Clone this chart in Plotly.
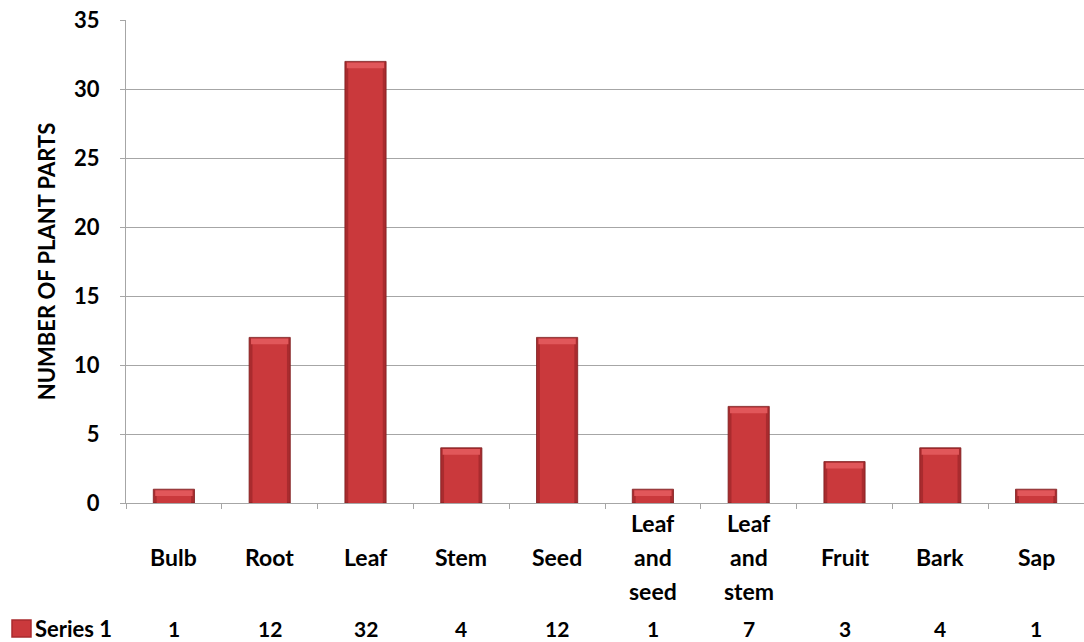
import plotly.graph_objects as go

# Plant parts used and how many plants use each part
categories = ["Bulb", "Root", "Leaf", "Stem", "Seed", "Leaf and seed",
              "Leaf and stem", "Fruit", "Bark", "Sap"]
series_name = "Series 1"
counts = [1, 12, 32, 4, 12, 1, 7, 3, 4, 1]
y_ticks = [0, 5, 10, 15, 20, 25, 30, 35]

FONT = "Lato, 'Open Sans', sans-serif"
BAR_DARK = "#A92B2E"
BAR_MID = "#CA393C"
BAR_TOP = "#E1575A"
GRID = "#A6A6A6"
TXT = 23
TABLE_TXT = 21

# figure geometry (pixels)
W, H = 1084, 642
ML, MR, MT, MB = 126, 0, 20, 139
PW, PH = W - ML - MR, H - MT - MB


def px_x(px):
    return (px - ML) / PW


def px_y(py):
    return (H - MB - py) / PH


fig = go.Figure()

# outer (darker) bar body
fig.add_trace(go.Bar(
    x=categories, y=counts, name=series_name, width=0.43,
    marker=dict(color=BAR_DARK, line=dict(color="#7E1E20", width=0.8)),
    showlegend=False,
))
# lighter centre of each bar
inner_h = [max(c - 0.35, 0) for c in counts]
fig.add_trace(go.Bar(
    x=categories, y=inner_h, width=0.36,
    marker=dict(color=BAR_MID, line=dict(width=0)),
    showlegend=False, hoverinfo="skip",
))
# bright bevel on the top face
fig.add_trace(go.Bar(
    x=categories, y=[0.42] * len(counts), base=[c - 0.5 for c in counts],
    width=0.39, marker=dict(color=BAR_TOP, line=dict(width=0)),
    showlegend=False, hoverinfo="skip",
))

annotations = []
# category labels, split across lines with Excel-like line spacing
LINE_GAP = 34
for cat in categories:
    words = cat.split(" ")
    n = len(words)
    for i, w in enumerate(words):
        annotations.append(dict(
            x=cat, xref="x", y=px_y(557), yref="paper", text=f"<b>{w}</b>",
            showarrow=False, xanchor="center", yanchor="middle",
            yshift=-(i - (n - 1) / 2) * LINE_GAP,
            font=dict(family=FONT, size=TXT, color="#000"),
        ))
# data table row
ROW_Y = 628
for cat, v in zip(categories, counts):
    annotations.append(dict(
        x=cat, xref="x", y=px_y(ROW_Y), yref="paper", text=f"<b>{v}</b>",
        showarrow=False, xanchor="center", yanchor="middle",
        font=dict(family=FONT, size=TABLE_TXT, color="#000"),
    ))
annotations.append(dict(
    x=px_x(33), xref="paper", y=px_y(ROW_Y), yref="paper",
    text=f"<b>{series_name}</b>", showarrow=False,
    xanchor="left", yanchor="middle",
    font=dict(family=FONT, size=TABLE_TXT + 1, color="#000"),
))

shapes = [
    # legend key swatch for the data table
    dict(type="rect", xref="paper", yref="paper",
         x0=px_x(12), x1=px_x(31), y0=px_y(637), y1=px_y(620),
         fillcolor=BAR_MID, line=dict(color=BAR_DARK, width=1.5)),
]

fig.update_layout(
    width=W, height=H,
    margin=dict(l=ML, r=MR, t=MT, b=MB),
    paper_bgcolor="white", plot_bgcolor="white",
    barmode="overlay",
    font=dict(family=FONT, color="#000"),
    annotations=annotations,
    shapes=shapes,
    xaxis=dict(
        showticklabels=False, showline=True, linecolor=GRID, linewidth=1,
        ticks="outside", ticklen=5, tickcolor=GRID, tickson="boundaries",
        showgrid=False, range=[-0.5, len(categories) - 0.5],
    ),
    yaxis=dict(
        range=[0, 35], tickvals=y_ticks, ticktext=[f"<b>{t}</b>" for t in y_ticks],
        showgrid=True, gridcolor=GRID, gridwidth=1,
        showline=True, linecolor=GRID, linewidth=1,
        tickfont=dict(family=FONT, size=22, color="#000"),
        ticks="outside", ticklen=5, tickcolor=GRID, ticklabelstandoff=16,
        title=dict(text="<b>NUMBER OF PLANT PARTS</b>", standoff=12,
                   font=dict(family=FONT, size=22, color="#000")),
        zeroline=False,
    ),
)

fig.write_html("out.html")
